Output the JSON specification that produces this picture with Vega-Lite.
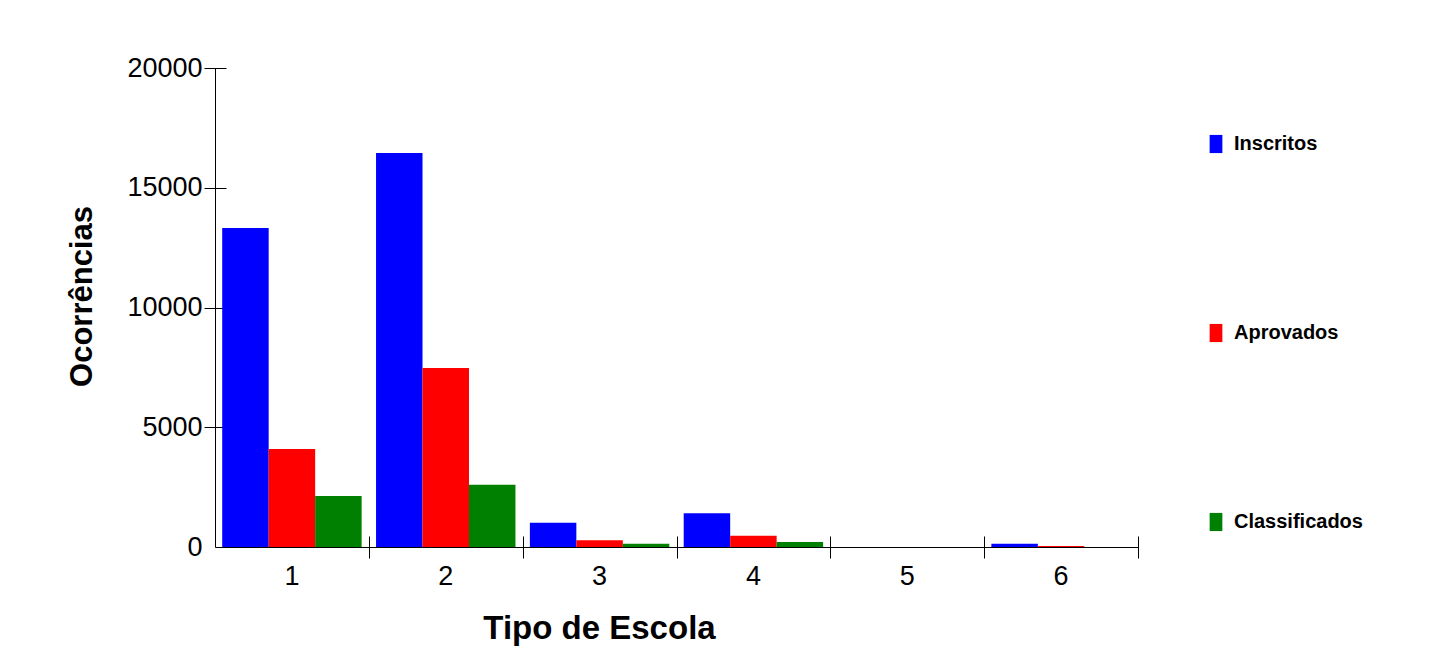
{
  "$schema": "https://vega.github.io/schema/vega-lite/v6.json",
  "width": 923,
  "height": 479,
  "autosize": {"type": "none"},
  "padding": {"left": 215, "top": 68, "right": 295, "bottom": 116},
  "background": "white",
  "config": {
    "view": {"stroke": null},
    "font": "Liberation Sans",
    "axis": {"domainColor": "black", "tickColor": "black", "labelColor": "black", "titleColor": "black", "grid": false}
  },
  "data": {
    "values": [
      {"tipo": "1", "serie": "Inscritos", "valor": 13319},
      {"tipo": "1", "serie": "Aprovados", "valor": 4092},
      {"tipo": "1", "serie": "Classificados", "valor": 2129},
      {"tipo": "2", "serie": "Inscritos", "valor": 16450},
      {"tipo": "2", "serie": "Aprovados", "valor": 7474},
      {"tipo": "2", "serie": "Classificados", "valor": 2601},
      {"tipo": "3", "serie": "Inscritos", "valor": 1015},
      {"tipo": "3", "serie": "Aprovados", "valor": 280},
      {"tipo": "3", "serie": "Classificados", "valor": 139},
      {"tipo": "4", "serie": "Inscritos", "valor": 1407},
      {"tipo": "4", "serie": "Aprovados", "valor": 472},
      {"tipo": "4", "serie": "Classificados", "valor": 209},
      {"tipo": "5", "serie": "Inscritos", "valor": 0},
      {"tipo": "5", "serie": "Aprovados", "valor": 0},
      {"tipo": "5", "serie": "Classificados", "valor": 0},
      {"tipo": "6", "serie": "Inscritos", "valor": 140},
      {"tipo": "6", "serie": "Aprovados", "valor": 40},
      {"tipo": "6", "serie": "Classificados", "valor": 0}
    ]
  },
  "resolve": {"axis": {"x": "independent", "y": "independent"}},
  "layer": [
    {
      "mark": {"type": "bar"},
      "encoding": {
        "x": {
          "field": "tipo", "type": "nominal",
          "scale": {"paddingInner": 0, "paddingOuter": 0},
          "axis": {
            "orient": "bottom", "title": "Tipo de Escola", "labelAngle": 0,
            "ticks": false, "labelPadding": 16, "labelFontSize": 27,
            "titleFontSize": 33, "titleFontWeight": "bold",
            "titleX": 384, "titleY": 81, "titleBaseline": "middle", "titleAlign": "center",
            "domainWidth": 1
          }
        },
        "xOffset": {
          "field": "serie", "type": "nominal",
          "sort": ["Inscritos", "Aprovados", "Classificados"],
          "scale": {"paddingInner": 0, "paddingOuter": 0.155}
        },
        "y": {
          "field": "valor", "type": "quantitative",
          "scale": {"domain": [0, 20000], "nice": false},
          "axis": {
            "orient": "left", "title": "Ocorrências",
            "values": [0, 5000, 10000, 15000, 20000], "format": "d",
            "ticks": false, "labelPadding": 13, "labelFontSize": 27,
            "titleFontSize": 31, "titleFontWeight": "bold",
            "titleX": -133, "titleY": 228, "titleBaseline": "middle", "titleAlign": "center", "titleAngle": -90
          }
        },
        "color": {
          "field": "serie", "type": "nominal",
          "sort": ["Inscritos", "Aprovados", "Classificados"],
          "scale": {"domain": ["Inscritos", "Aprovados", "Classificados"], "range": ["#0000ff", "#ff0000", "#008000"]},
          "legend": {
            "title": null, "orient": "none", "legendX": 991, "legendY": 66,
            "direction": "vertical", "padding": 0,
            "symbolType": "M-0.7,-1H0.7V1H-0.7Z", "symbolSize": 330, "symbolStrokeWidth": 0,
            "labelFontSize": 20, "labelFontWeight": "bold", "labelColor": "black",
            "labelOffset": 8, "rowPadding": 169
          }
        }
      }
    },
    {
      "mark": {"type": "bar", "opacity": 0},
      "encoding": {
        "x": {
          "field": "tipo", "type": "nominal",
          "axis": {
            "orient": "bottom", "title": null, "labels": false, "domain": false,
            "values": ["2", "3", "4", "5", "6"],
            "tickBand": "extent", "tickSize": 22, "offset": -11, "tickWidth": 1
          }
        },
        "y": {
          "field": "valor", "type": "quantitative",
          "axis": {
            "orient": "left", "title": null, "labels": false, "domain": false,
            "values": [5000, 10000, 15000, 20000], "tickSize": 22, "offset": -11, "tickWidth": 1
          }
        }
      }
    }
  ]
}
